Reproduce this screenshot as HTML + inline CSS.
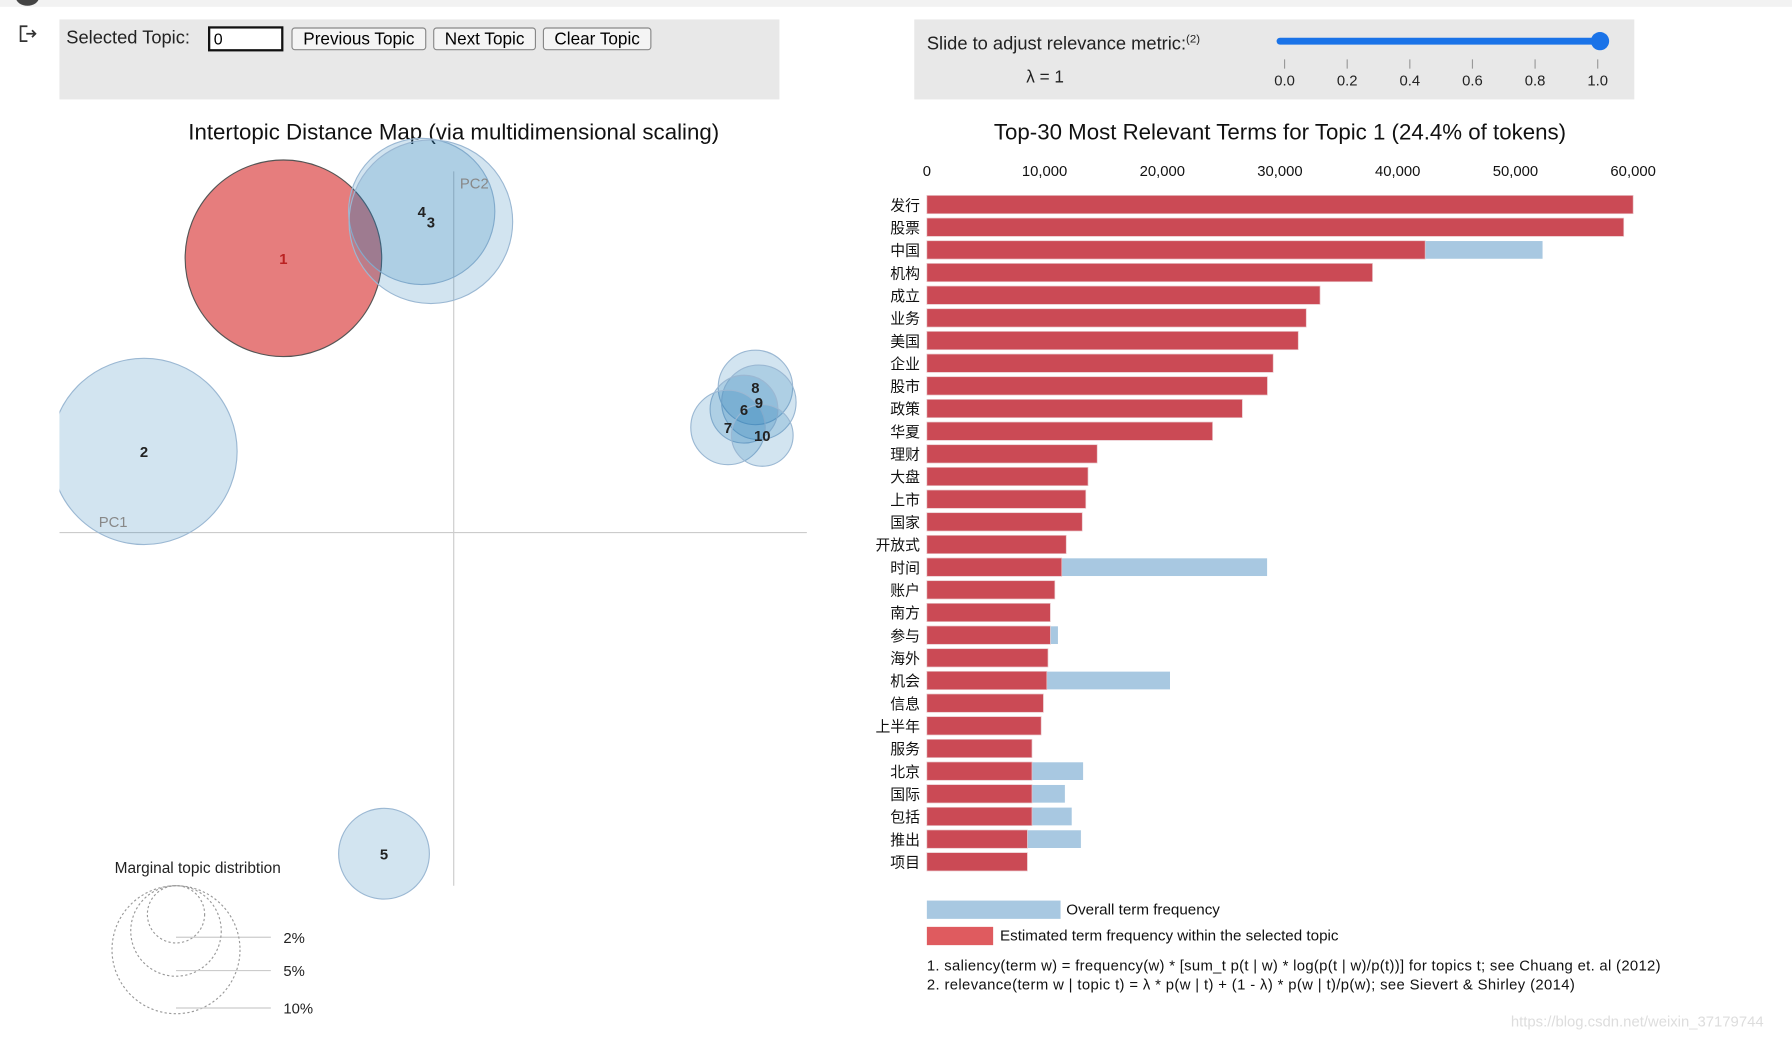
<!DOCTYPE html>
<html><head><meta charset="utf-8">
<style>
html,body{margin:0;padding:0;background:#fff;overflow:hidden;width:1792px;height:1040px;}
#wrap{position:absolute;left:0;top:0;width:1568px;height:910px;transform:scale(1.142857);transform-origin:0 0;font-family:"Liberation Sans","Noto Sans CJK SC",sans-serif;}
.box{position:absolute;background:#e8e8e8;}
.btn{position:absolute;top:24px;height:20px;border:1px solid #888;border-radius:3px;background:#f4f4f4;font-size:15px;line-height:19px;text-align:center;box-sizing:border-box;}
</style></head><body>
<div id="wrap">
<div style="position:absolute;left:0;top:0;width:1568px;height:6px;background:#f2f2f2"></div>
<div style="position:absolute;left:14px;top:-9px;width:20px;height:14px;border-radius:50%;background:#444"></div>
<svg style="position:absolute;left:16px;top:21px" width="20" height="18"><path d="M8 2H2V15H8" fill="none" stroke="#333" stroke-width="1.5"/><path d="M7 8.5H15M12 5.5L15 8.5L12 11.5" fill="none" stroke="#333" stroke-width="1.5"/></svg>
<div class="box" style="left:52px;top:17px;width:630px;height:70px"></div>
<div style="position:absolute;left:58px;top:25px;font-size:16px;color:#222">Selected Topic:</div>
<div style="position:absolute;left:182px;top:23px;width:66px;height:22px;border:2px solid #111;box-sizing:border-box;background:#fff;font-size:14px;padding-left:3px;line-height:18px">0</div>
<div class="btn" style="left:255px;width:118px">Previous Topic</div>
<div class="btn" style="left:379px;width:90px">Next Topic</div>
<div class="btn" style="left:475px;width:95px">Clear Topic</div>

<div class="box" style="left:800px;top:17px;width:630px;height:70px"></div>
<div style="position:absolute;left:811px;top:29px;font-size:16px;color:#222">Slide to adjust relevance metric:<sup style="font-size:10px">(2)</sup></div>
<div style="position:absolute;left:898px;top:59px;font-size:15px;color:#222">λ = 1</div>
<div style="position:absolute;left:1117px;top:33px;width:283px;height:6px;border-radius:3px;background:#1a73e8"></div>
<div style="position:absolute;left:1392px;top:28px;width:16px;height:16px;border-radius:50%;background:#1a73e8"></div>
<svg id="sl" style="position:absolute;left:1100px;top:48px" width="330" height="32"></svg>

<svg id="map" style="position:absolute;left:0;top:95px" width="760" height="815"></svg>
<svg id="bars" style="position:absolute;left:760px;top:95px" width="808" height="815"></svg>
<div style="position:absolute;left:1322px;top:886px;font-size:13px;color:#ddd">https://blog.csdn.net/weixin_37179744</div>
</div>
<script>
const NS="http://www.w3.org/2000/svg";
function mk(p,t,a){const e=document.createElementNS(NS,t);for(const k in a)e.setAttribute(k,a[k]);p.appendChild(e);return e;}
const sliderTicks=["0.0","0.2","0.4","0.6","0.8","1.0"];
const sl=document.getElementById('sl');
sliderTicks.forEach((t,i)=>{const x=24+i*54.8;
 const l=mk(sl,'line',{x1:x,x2:x,y1:4,y2:12,stroke:'#999'});
 
 
 const tx=mk(sl,'text',{x:x,y:27,'text-anchor':'middle','font-size':13,fill:'#222'});tx.textContent=t;
 
 });

const topicIds=["1","4","3","2","5","8","9","6","7","10"];
const topicX=[-0.149,-0.028,-0.020,-0.271,-0.061,0.264,0.267,0.254,0.240,0.270];
const topicY=[0.240,0.281,0.272,0.071,-0.281,0.127,0.114,0.108,0.092,0.085];
const topicSize=[24.4,13.5,16.9,21.9,5.2,3.5,3.5,2.9,3.5,2.4];
const map=document.getElementById('map');
const oy=95;
const sx=v=>397+v*1000, sy=v=>(466-oy)-v*1000;
const sr=s=>Math.sqrt(s/24.4)*86;
const t1=mk(map,'text',{x:397,y:27,'text-anchor':'middle','font-size':19.5,fill:'#111'});t1.textContent="Intertopic Distance Map (via multidimensional scaling)";


mk(mk(map,'clipPath',{id:'cp'}),'rect',{x:52,y:20,width:660,height:700});
const g=mk(map,'g',{'clip-path':'url(#cp)'});
const a1=mk(g,'line',{x1:397,x2:397,y1:55,y2:680,stroke:'#ccc'});
const a2=mk(g,'line',{x1:52,x2:706,y1:371,y2:371,stroke:'#ccc'});
const p2=mk(map,'text',{x:415,y:70,'text-anchor':'middle','font-size':13,fill:'#888'});p2.textContent='PC2';
const p1=mk(map,'text',{x:99,y:366,'text-anchor':'middle','font-size':13,fill:'#888'});p1.textContent='PC1';
topicIds.forEach((id,i)=>{const sel=id==="1";
 const c=mk(g,'circle',{cx:sx(topicX[i]),cy:sy(topicY[i]),r:sr(topicSize[i]),fill:sel?'#e36b6b':'#1f77b4','fill-opacity':sel?0.88:0.2,stroke:sel?'#555':'#9bb8d3','stroke-width':1});
 
 });
topicIds.forEach((id,i)=>{const t=mk(map,'text',{x:sx(topicX[i]),y:sy(topicY[i])+5,'text-anchor':'middle','font-size':13,'font-weight':'bold',fill:id==="1"?'#b22':'#222'});t.textContent=id;
 
 });
const mt=mk(map,'text',{x:173,y:669,'text-anchor':'middle','font-size':13.5,fill:'#222'});mt.textContent='Marginal topic distribtion';
const margLabels=["2%","5%","10%"];const margVals=[2,5,10];
margLabels.forEach((l,i)=>{const r=Math.sqrt(margVals[i]/10)*56;const cy=680+r;
 const c=mk(map,'circle',{cx:154,cy:cy,r:r,fill:'none',stroke:'#999','stroke-dasharray':'2,2'});
 mk(map,'line',{x1:154,x2:237,y1:cy+r-5,y2:cy+r-5,stroke:'#ccc'});
 const t=mk(map,'text',{x:248,y:cy+r,'font-size':13,fill:'#222'});t.textContent=l;});

const terms=["发行","股票","中国","机构","成立","业务","美国","企业","股市","政策","华夏","理财","大盘","上市","国家","开放式","时间","账户","南方","参与","海外","机会","信息","上半年","服务","北京","国际","包括","推出","项目"];
const estFreq=[60000,59200,42330,37860,33400,32230,31550,29420,28930,26800,24270,14470,13690,13500,13200,11840,11460,10870,10490,10490,10290,10190,9900,9710,8930,8930,8930,8930,8540,8540];
const overallFreq=[60000,59200,52330,37860,33400,32230,31550,29420,28930,26800,24270,14470,13690,13500,13200,11840,28930,10870,10490,11160,10290,20680,9900,9710,8930,13300,11750,12330,13110,8540];
const xTicks=[0,10000,20000,30000,40000,50000,60000];
const xTickLabels=["0","10,000","20,000","30,000","40,000","50,000","60,000"];
const bars=document.getElementById('bars');
const bx=v=>51+v/60000*618, by=i=>(179-oy)+i*19.83;
const t2=mk(bars,'text',{x:360,y:27,'text-anchor':'middle','font-size':19.5,fill:'#111'});t2.textContent="Top-30 Most Relevant Terms for Topic 1 (24.4% of tokens)";

xTicks.forEach((v,i)=>{const t=mk(bars,'text',{x:bx(v),y:59,'text-anchor':'middle','font-size':13,fill:'#111'});t.textContent=xTickLabels[i];
 });
terms.forEach((term,i)=>{const y=by(i);
 const b=mk(bars,'rect',{x:bx(0),y:y-8,width:bx(overallFreq[i])-bx(0),height:16,fill:'#a8c8e1',stroke:'#fff','stroke-width':0.5});
 
 const r=mk(bars,'rect',{x:bx(0),y:y-8,width:bx(estFreq[i])-bx(0),height:16,fill:'#cb4a55',stroke:'#e8c4c8','stroke-width':0.6});
 
 const t=mk(bars,'text',{x:45,y:y+5,'text-anchor':'end','font-size':13,fill:'#111'});t.textContent=term;
 });
const l1=mk(bars,'rect',{x:51,y:693,width:117,height:16,fill:'#a8c8e1'});
const lt1=mk(bars,'text',{x:173,y:705,'font-size':13.3,fill:'#111'});lt1.textContent='Overall term frequency';
const l2=mk(bars,'rect',{x:51,y:716,width:58,height:16,fill:'#df5b5f'});
const lt2=mk(bars,'text',{x:115,y:728,'font-size':13.3,fill:'#111'});lt2.textContent='Estimated term frequency within the selected topic';
const f1=mk(bars,'text',{x:51,y:754,'font-size':13,fill:'#111',textLength:642});f1.textContent='1. saliency(term w) = frequency(w) * [sum_t p(t | w) * log(p(t | w)/p(t))] for topics t; see Chuang et. al (2012)';
const f2=mk(bars,'text',{x:51,y:771,'font-size':13,fill:'#111',textLength:567});f2.textContent='2. relevance(term w | topic t) = λ * p(w | t) + (1 - λ) * p(w | t)/p(w); see Sievert & Shirley (2014)';
</script>
</body></html>
